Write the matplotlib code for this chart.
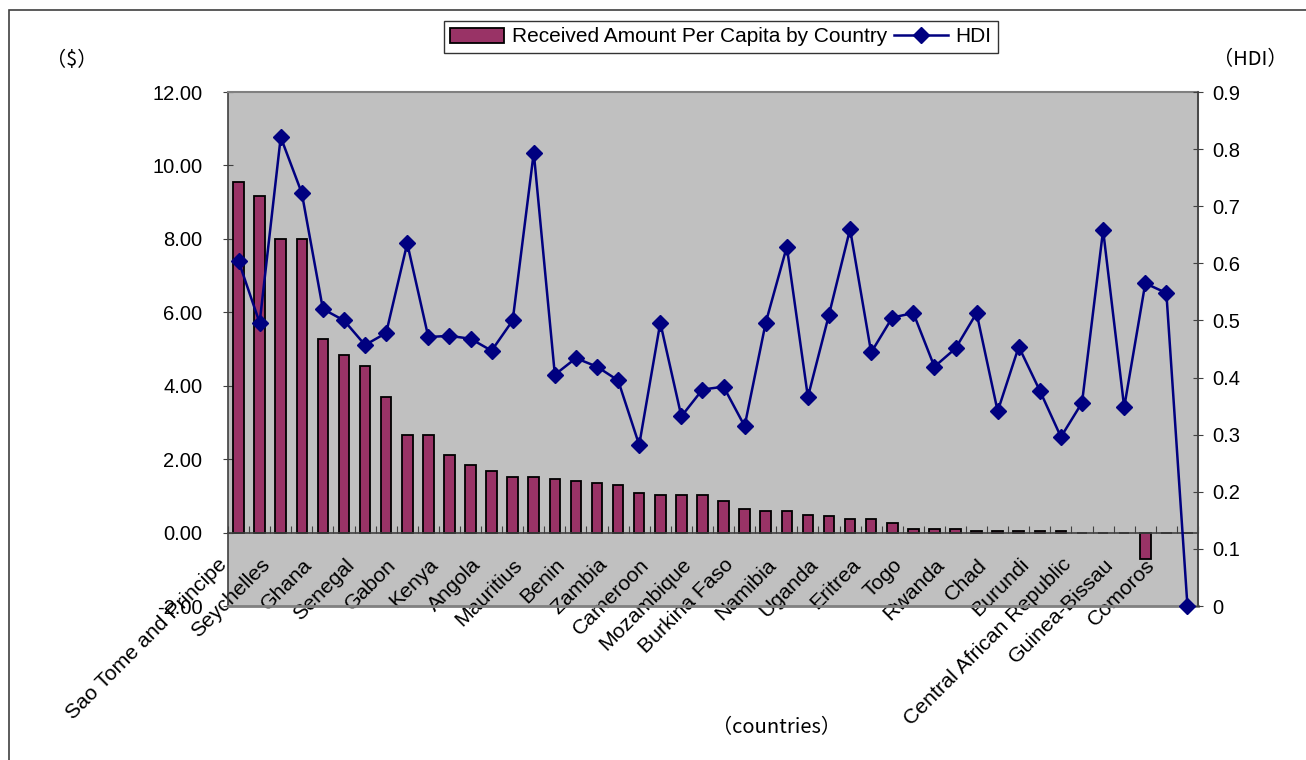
import numpy as np
import matplotlib
matplotlib.use("Agg")
import matplotlib.pyplot as plt
from matplotlib.patches import Rectangle
from matplotlib.ticker import FixedLocator, FuncFormatter
from matplotlib.transforms import ScaledTranslation

# ---------------- data ----------------
# Received amount per capita ($), one value per country (46 countries)
amount = [9.55, 9.17, 8.00, 8.00, 5.28, 4.83, 4.55, 3.69, 2.65, 2.65,
          2.10, 1.84, 1.68, 1.51, 1.51, 1.47, 1.41, 1.36, 1.30, 1.08,
          1.02, 1.02, 1.02, 0.87, 0.64, 0.59, 0.59, 0.49, 0.44, 0.36,
          0.36, 0.27, 0.11, 0.11, 0.11, 0.04, 0.04, 0.04, 0.04, 0.04,
          0.00, 0.00, 0.00, -0.71, 0.00, 0.00]
# Human Development Index per country
hdi = [0.604, 0.496, 0.821, 0.723, 0.520, 0.500, 0.457, 0.478, 0.635, 0.471,
       0.473, 0.468, 0.447, 0.500, 0.794, 0.405, 0.434, 0.419, 0.395, 0.282,
       0.496, 0.332, 0.379, 0.384, 0.315, 0.496, 0.629, 0.366, 0.510, 0.660,
       0.444, 0.505, 0.513, 0.419, 0.451, 0.513, 0.341, 0.454, 0.377, 0.296,
       0.356, 0.658, 0.348, 0.565, 0.548, 0.000]
# Only every other category is labelled on the axis
shown_labels = ["Sao Tome and Principe", "Seychelles", "Ghana", "Senegal", "Gabon",
                "Kenya", "Angola", "Mauritius", "Benin", "Zambia", "Cameroon",
                "Mozambique", "Burkina Faso", "Namibia", "Uganda", "Eritrea",
                "Togo", "Rwanda", "Chad", "Burundi", "Central African Republic",
                "Guinea-Bissau", "Comoros"]
left_ticks = [-2, 0, 2, 4, 6, 8, 10, 12]
right_ticks = [0, 0.1, 0.2, 0.3, 0.4, 0.5, 0.6, 0.7, 0.8, 0.9]

# ---------------- style ----------------
plt.rcParams['font.family'] = ['Liberation Sans', 'DejaVu Sans']
FS = 14.5
BAR_COLOR = '#993366'
LINE_COLOR = '#000080'
PLOT_BG = '#C0C0C0'
JP = ['Noto Sans CJK JP', 'DejaVu Sans']

W, H = 1306, 760
fig = plt.figure(figsize=(W / 100, H / 100), dpi=100)
fig.patch.set_facecolor('white')

# outer chart border (only top/left visible in reference)
fig.add_artist(Rectangle((9 / W, -0.05), 1.2, 1 - 10 / H + 0.05,
                         transform=fig.transFigure, fill=False,
                         edgecolor='#404040', linewidth=1.2))

x0, x1, ytop, ybot = 228, 1198, 92, 606
ax = fig.add_axes([x0 / W, 1 - ybot / H, (x1 - x0) / W, (ybot - ytop) / H])
ax.set_facecolor(PLOT_BG)

n = len(amount)
x = np.arange(n)
ax.bar(x, amount, width=0.5, color=BAR_COLOR, edgecolor='black', linewidth=1.3, zorder=3)
ax.set_xlim(-0.5, n - 0.5)
ax.set_ylim(-2, 12)

# bottom spine on zero line, ticks at category boundaries
ax.spines['bottom'].set_position(('data', 0))
ax.spines['bottom'].set_color('#404040')
ax.spines['bottom'].set_linewidth(1.2)
ax.spines['bottom'].set_zorder(4)
ax.xaxis.set_major_locator(FixedLocator(np.arange(n + 1) - 0.5))
ax.xaxis.set_major_formatter(FuncFormatter(lambda v, p: ''))
ax.tick_params(axis='x', which='major', direction='in', length=5, color='#404040')
label_pos = x[::2]
ax.set_xticks(label_pos, minor=True)
ax.set_xticklabels(shown_labels, minor=True, rotation=45, ha='right', va='center',
                   rotation_mode='anchor', fontsize=15.3)
ax.tick_params(axis='x', which='minor', length=0, pad=21)

ax.set_yticks(left_ticks)
ax.set_yticklabels([f"{v:.2f}" for v in left_ticks], fontsize=FS)
ax.tick_params(axis='y', direction='inout', length=7, pad=15, color='#404040')

for s in ['top', 'right']:
    ax.spines[s].set_color('#808080')
    ax.spines[s].set_linewidth(1.5)
ax.spines['left'].set_color('#404040')
ax.spines['left'].set_linewidth(1.2)
# lower border of plot area
ax.axhline(-2, color='#808080', linewidth=2.0, zorder=5, clip_on=False)

ax2 = ax.twinx()
ax2.plot(x, hdi, color=LINE_COLOR, linewidth=1.8, marker='D', markersize=8,
         markerfacecolor=LINE_COLOR, markeredgecolor=LINE_COLOR, zorder=6, clip_on=False)
ax2.set_ylim(0, 0.9)
ax2.set_yticks(right_ticks)
ax2.set_yticklabels([f"{v:g}" for v in right_ticks], fontsize=FS)
ax2.tick_params(axis='y', direction='inout', length=7, pad=7, color='#404040')
ax2.spines['right'].set_color('#404040')
ax2.spines['right'].set_linewidth(1.2)
for s in ['top', 'left', 'bottom']:
    ax2.spines[s].set_visible(False)

# shift the rotated category labels a little to the left, like the reference
shift = ScaledTranslation(-14 / 100, 0, fig.dpi_scale_trans)
for lab in ax.get_xticklabels(minor=True):
    lab.set_transform(lab.get_transform() + shift)

# axis titles
fig.text(72 / W, 1 - 60 / H, '（$）', fontsize=FS, family=JP, ha='center', va='center')
fig.text(1250 / W, 1 - 60 / H, '（HDI）', fontsize=FS, family=JP, ha='center', va='center')
fig.text(776 / W, 1 - 728 / H, '（countries）', fontsize=FS, family=JP, ha='center', va='center')

# legend
h1 = Rectangle((0, 0), 1, 1, facecolor=BAR_COLOR, edgecolor='black', linewidth=1.3)
h2, = ax2.plot([], [], color=LINE_COLOR, linewidth=1.8, marker='D', markersize=8)
leg = fig.legend([h1, h2], ['Received Amount Per Capita by Country', 'HDI'],
                 loc='center', bbox_to_anchor=(721 / W, 1 - 37 / H), ncol=2,
                 fontsize=15, frameon=True, fancybox=False, borderpad=0.3,
                 handlelength=2.6, handletextpad=0.35, columnspacing=0.35,
                 borderaxespad=0)
leg.get_frame().set_edgecolor('black')
leg.get_frame().set_linewidth(1.0)

fig.savefig('out.png', dpi=100)
